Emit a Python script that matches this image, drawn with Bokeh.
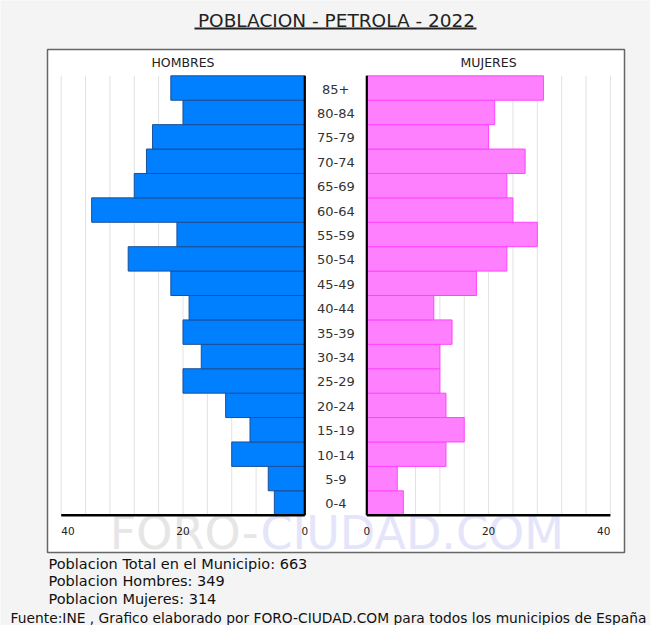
import numpy as np
from bokeh.plotting import figure
from bokeh.models import Range1d
from bokeh.core.properties import value
from bokeh.embed import file_html
from bokeh.resources import INLINE

# ---------------- data ----------------
ages = ["0-4", "5-9", "10-14", "15-19", "20-24", "25-29", "30-34", "35-39",
        "40-44", "45-49", "50-54", "55-59", "60-64", "65-69", "70-74",
        "75-79", "80-84", "85+"]
hombres = [5, 6, 12, 9, 13, 20, 17, 20, 19, 22, 29, 21, 35, 28, 26, 25, 20, 22]
mujeres = [6, 5, 13, 16, 13, 12, 12, 14, 11, 18, 23, 28, 24, 23, 26, 20, 21, 29]
grid_vals = [4, 8, 12, 16, 20, 24, 28, 32, 36, 40]
inner_ticks = [0, 20]
outer_ticks = [40]
title_text = "POBLACION - PETROLA - 2022"
municipio = "PETROLA"
total_pob = 663
total_h = 349
total_m = 314
footer_text = ("Fuente:INE , Grafico elaborado por FORO-CIUDAD.COM para todos "
               "los municipios de España")

# ---------------- layout helpers ----------------
W, H = 650, 625
M = 8                      # page margin
PPU = 6.09                 # pixels per person
CX = 343.3 - M             # canvas x of the centre between panels
BAND = 24.41               # pixels per age group
BASE = 522.7 - M           # canvas y of bar-area bottom


def X(px):
    return (px - M - CX) / PPU


def Y(py):
    return -0.5 + (BASE - (py - M)) / BAND


G = 31.0 / PPU             # half gap between the two panels (data units)
FONT = value("DejaVu Sans")

p = figure(width=W, height=H,
           x_range=Range1d(X(M), X(M + W)), y_range=Range1d(Y(M + H), Y(M)),
           output_backend="svg", toolbar_location=None, min_border=0,
           x_axis_location=None, y_axis_location=None,
           background_fill_color="#f4f4f4", border_fill_color="#f4f4f4",
           outline_line_color=None)
p.grid.visible = False

n = len(ages)
idx = np.arange(n)
h = np.array(hombres)
m = np.array(mujeres)
gv = np.array(grid_vals)

# white chart box
p.quad(left=X(55), right=X(632), top=Y(57), bottom=Y(560),
       fill_color="white", line_color="#666666", line_width=1.5)

# watermark
p.text(x=X(266), y=Y(540), text=["FORO-"], text_font=FONT, text_font_size="46px",
       text_color="#e6e6e6", text_align="right", text_baseline="middle")
p.text(x=X(268), y=Y(540), text=["CIUDAD.COM"], text_font=FONT, text_font_size="46px",
       text_color="#e4e4fa", text_align="left", text_baseline="middle")

# gridlines
p.segment(x0=-G - gv, y0=-0.5, x1=-G - gv, y1=n - 0.5, line_color="#e2e2e2", line_width=1)
p.segment(x0=G + gv, y0=-0.5, x1=G + gv, y1=n - 0.5, line_color="#e2e2e2", line_width=1)

# bars
p.hbar(y=idx, left=-G - h, right=-G, height=1,
       fill_color="#0080ff", line_color="#1a4f99", line_width=1)
p.hbar(y=idx, left=G, right=G + m, height=1,
       fill_color="#ff80ff", line_color="#ff44ff", line_width=1)

# axis lines
p.segment(x0=[-G, G], y0=[-0.5, -0.5], x1=[-G, G], y1=[n - 0.5, n - 0.5],
          line_color="black", line_width=2.2)
p.segment(x0=[-G - max(grid_vals), G], y0=[-0.5, -0.5],
          x1=[-G, G + max(grid_vals)], y1=[-0.5, -0.5],
          line_color="black", line_width=2.5)

# tick labels
ti = np.array(inner_ticks)
to = np.array(outer_ticks)
tick_kw = dict(text_font=FONT, text_font_size="10.5px", text_color="#222222",
               text_baseline="middle")
p.text(x=-G - ti, y=Y(538.5), text=[str(t) for t in inner_ticks], text_align="center", **tick_kw)
p.text(x=G + ti, y=Y(538.5), text=[str(t) for t in inner_ticks], text_align="center", **tick_kw)
p.text(x=-G - to, y=Y(538.5), text=[str(t) for t in outer_ticks], text_align="left", **tick_kw)
p.text(x=G + to, y=Y(538.5), text=[str(t) for t in outer_ticks], text_align="right", **tick_kw)

# age labels
p.text(x=0, y=idx, text=ages, text_font=FONT, text_font_size="13px",
       text_color="#333333", text_align="center", text_baseline="middle", y_offset=1)

# panel titles
p.text(x=[-G - 20, G + 20], y=Y(70.3), text=["HOMBRES", "MUJERES"], text_font=FONT,
       text_font_size="12.5px", text_color="#222222", text_align="center",
       text_baseline="middle")

# title + underline
p.text(x=X(344), y=Y(27.5), text=[title_text], text_font=FONT, text_font_size="18.5px",
       text_color="#222222", text_align="center", text_baseline="middle")
p.segment(x0=X(202), y0=Y(36), x1=X(484), y1=Y(36), line_color="#222222", line_width=2)

# population summary
p.text(x=X(56), y=[Y(571), Y(588.5), Y(606)],
       text=[f"Poblacion Total en el Municipio: {total_pob}",
             f"Poblacion Hombres: {total_h}",
             f"Poblacion Mujeres: {total_m}"],
       text_font=FONT, text_font_size="14.5px", text_color="#111111",
       text_align="left", text_baseline="middle")

# footer
p.text(x=X(336), y=Y(625), text=[footer_text], text_font=FONT, text_font_size="13.8px",
       text_color="#111111", text_align="center", text_baseline="middle")

open("out.html", "w").write(file_html(p, INLINE))
